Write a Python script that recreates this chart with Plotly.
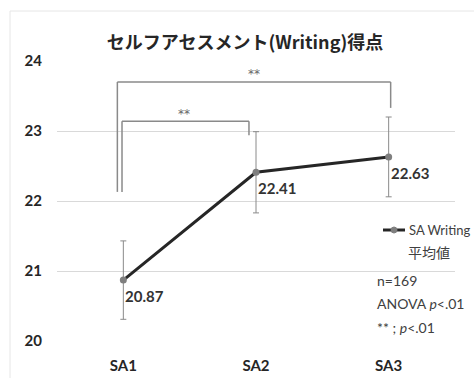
import plotly.graph_objects as go

# Self-assessment (Writing) mean scores across three sessions
categories = ["SA1", "SA2", "SA3"]
means = [20.87, 22.41, 22.63]
errors = [0.56, 0.58, 0.57]
y_ticks = [20, 21, 22, 23, 24]
legend_lines = ["SA Writing", "平均値"]
notes = ["n=169", "ANOVA <i>p</i><.01", "** ; <i>p</i><.01"]

x_idx = list(range(len(categories)))

JP = "Noto Sans CJK JP"
LAT = "Lato"
GRAY = "#8a8a8a"
DARK = "#262626"

# plot area in pixels
L, R, T, B = 57, 19, 61, 37
PW, PH = 474 - L - R, 378 - T - B


def px(xp):
    return (xp - L) / PW


def py(yp):
    return (378 - B - yp) / PH


fig = go.Figure()
fig.add_trace(go.Scatter(
    x=x_idx, y=means, mode="lines+markers", name=" ".join(legend_lines),
    line=dict(color=DARK, width=3),
    marker=dict(color="#7f7f7f", size=7),
    error_y=dict(type="data", array=errors, visible=True,
                 color=GRAY, thickness=1, width=3),
    showlegend=False,
))

# value labels just below-right of each point
for i, v in zip(x_idx, means):
    fig.add_annotation(x=i, y=v, text=f"<b>{v:.2f}</b>", showarrow=False,
                       xanchor="left", yanchor="middle", xshift=0, yshift=-16,
                       font=dict(family=LAT, size=15, color="#333333"))

# significance brackets
bracket = dict(type="line", xref="x", yref="y",
               line=dict(color=GRAY, width=1.5))
# SA1 vs SA3
fig.add_shape(x0=-0.045, x1=-0.045, y0=22.13, y1=23.70, **bracket)
fig.add_shape(x0=-0.045, x1=2.015, y0=23.70, y1=23.70, **bracket)
fig.add_shape(x0=2.015, x1=2.015, y0=23.70, y1=23.33, **bracket)
# SA1 vs SA2
fig.add_shape(x0=-0.01, x1=-0.01, y0=22.13, y1=23.14, **bracket)
fig.add_shape(x0=-0.01, x1=0.947, y0=23.14, y1=23.14, **bracket)
fig.add_shape(x0=0.947, x1=0.947, y0=23.14, y1=22.94, **bracket)
fig.add_annotation(x=0.985, y=23.82, text="**", showarrow=False,
                   font=dict(family="DejaVu Sans", size=12, color="#666666"))
fig.add_annotation(x=0.455, y=23.25, text="**", showarrow=False,
                   font=dict(family="DejaVu Sans", size=12, color="#666666"))

# legend key: line with marker, then two-line label
fig.add_shape(type="line", xref="paper", yref="paper",
              x0=px(383), x1=px(405), y0=py(230), y1=py(230),
              line=dict(color=DARK, width=3))
fig.add_shape(type="circle", xref="paper", yref="paper",
              x0=px(391), x1=px(397), y0=py(233), y1=py(227),
              fillcolor="#7f7f7f", line=dict(color="#7f7f7f", width=1))
fig.add_annotation(xref="paper", yref="paper", x=px(407), y=py(230),
                   text=legend_lines[0], showarrow=False, xanchor="left",
                   yanchor="middle", font=dict(family=LAT, size=13, color="#404040"))
fig.add_annotation(xref="paper", yref="paper", x=px(406), y=py(252),
                   text=legend_lines[1], showarrow=False, xanchor="left",
                   yanchor="middle", font=dict(family=JP, size=14, color="#404040"))

# notes on the right
for k, t in enumerate(notes):
    fig.add_annotation(xref="paper", yref="paper", x=px(375),
                       y=py(280 + 23.5 * k), text=t, showarrow=False,
                       xanchor="left", yanchor="middle",
                       font=dict(family=LAT, size=14, color="#404040"))

# outer chart border
fig.add_shape(type="rect", xref="paper", yref="paper",
              x0=px(10), x1=px(480), y0=py(385), y1=py(11),
              line=dict(color="#e6e6e6", width=1), layer="below")

fig.update_layout(
    width=474, height=378,
    margin=dict(l=L, r=R, t=T, b=B),
    paper_bgcolor="white", plot_bgcolor="white",
    title=dict(text="セルフアセスメント(Writing)得点", x=245 / 474, xanchor="center",
               y=1 - 43 / 378, yanchor="middle",
               font=dict(family=JP, size=18, color="#262626", weight="bold")),
    showlegend=False,
    xaxis=dict(range=[-0.5, 2.5], tickvals=x_idx, ticktext=categories,
               showgrid=False, zeroline=False, showline=False, ticks="",
               ticklabelstandoff=14, automargin=False,
               tickfont=dict(family=LAT, size=15, color="#262626", weight="bold")),
    yaxis=dict(range=[20, 24], tickvals=y_ticks, showgrid=True,
               gridcolor="#d9d9d9", gridwidth=1, zeroline=False, showline=False,
               ticks="", ticklabelstandoff=14, automargin=False,
               tickfont=dict(family=LAT, size=15, color="#262626", weight="bold")),
)

fig.write_html("out.html")
